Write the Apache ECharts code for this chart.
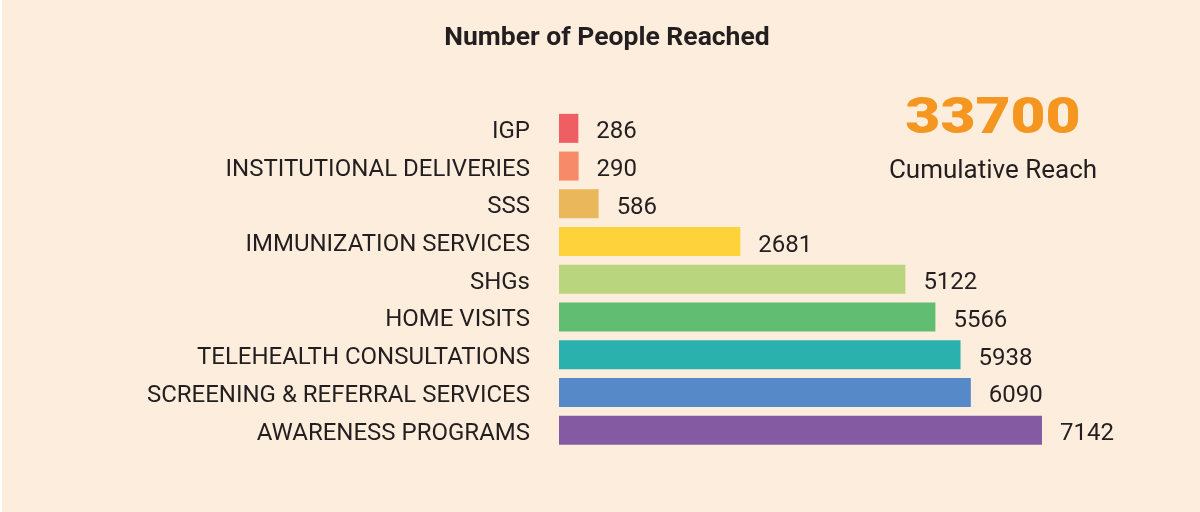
<!DOCTYPE html>
<html>
<head>
<meta charset="utf-8">
<script src="https://cdn.jsdelivr.net/npm/echarts@6/dist/echarts.min.js"></script>
<style>
  html, body { margin: 0; padding: 0; background: #ffffff; }
  #chart { position: absolute; left: 2px; top: 0; width: 1198px; height: 512px; }
</style>
</head>
<body>
<div id="chart"></div>
<script>
// data
var categories = ['IGP', 'INSTITUTIONAL DELIVERIES', 'SSS', 'IMMUNIZATION SERVICES', 'SHGs',
  'HOME VISITS', 'TELEHEALTH CONSULTATIONS', 'SCREENING & REFERRAL SERVICES', 'AWARENESS PROGRAMS']
var values = [286, 290, 586, 2681, 5122, 5566, 5938, 6090, 7142]
var barColors = ['#ee5e63', '#f68a69', '#ebb75b', '#fed23a', '#b9d57e',
  '#61bd72', '#2ab1ae', '#5589c8', '#845ba3']
var totalReach = '33700'
var totalLabel = 'Cumulative Reach'

var textColor = '#231f20'
var font = 'Roboto'

var chart = echarts.init(document.getElementById('chart'))
chart.setOption({
  backgroundColor: '#fdeddc',
  title: {
    text: 'Number of People Reached',
    left: 600,
    top: 20,
    textAlign: 'center',
    textStyle: { fontFamily: font, fontWeight: 'bold', fontSize: 26.5, color: textColor }
  },
  graphic: [
    {
      type: 'text',
      x: 991,
      y: 120,
      scaleX: 1.12,
      scaleY: 0.93,
      style: {
        text: totalReach,
        align: 'center', verticalAlign: 'middle',
        font: '900 54px Roboto',
        fill: '#f4961f'
      }
    },
    {
      type: 'text',
      x: 991,
      y: 171,
      style: {
        text: totalLabel,
        align: 'center', verticalAlign: 'middle',
        font: '26px Roboto',
        fill: textColor
      }
    }
  ],
  grid: {
    left: 557,
    right: 100,
    top: 109.5,
    bottom: 63
  },
  xAxis: {
    type: 'value',
    min: 0,
    max: 8000,
    show: false
  },
  yAxis: {
    type: 'category',
    inverse: true,
    data: categories,
    axisLine: { show: false },
    axisTick: { show: false },
    axisLabel: {
      margin: 29,
      formatter: function (v) { return '{a|' + v + '}' },
      rich: {
        a: {
          padding: [7, 0, 0, 0],
          fontFamily: font,
          fontSize: 24,
          color: textColor
        }
      }
    }
  },
  series: [
    {
      type: 'bar',
      barWidth: 29,
      data: values.map(function (v, i) {
        return { value: v, itemStyle: { color: barColors[i] } }
      }),
      label: {
        show: true,
        position: 'right',
        distance: 18,
        offset: [0, 4],
        fontFamily: font,
        fontSize: 24,
        color: textColor
      },
      animation: false
    }
  ]
})
</script>
</body>
</html>
